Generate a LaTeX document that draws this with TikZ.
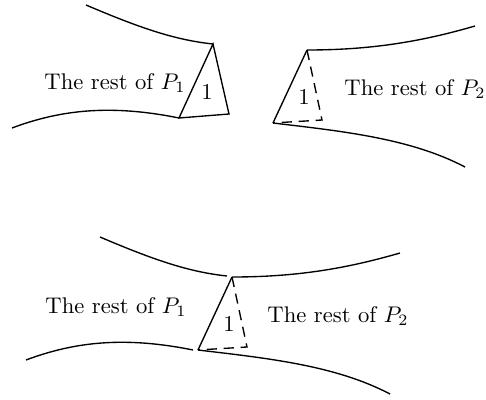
\documentclass[tikz,border=0pt]{standalone}
\usetikzlibrary{positioning}

\begin{document}
\begin{tikzpicture}[
  x=0.442pt, y=-0.442pt,
  bd/.style={semithick},
  hid/.style={semithick, dash pattern=on 4.5pt off 3pt},
  lbl/.style={inner sep=1pt}]
\useasboundingbox (0,0) rectangle (486,399);
% upper picture: P_1 with its piece 1
\coordinate (ta) at (213,44);
\coordinate (tb) at (179,118);
\coordinate (tc) at (229,114);
\draw[bd] (86,5) .. controls (140,28) and (175,40) .. (ta);
\draw[bd] (12,128) .. controls (60,110) and (110,104) .. (tb);
\draw[bd] (ta) -- (tb) -- (tc) -- cycle;
\node[lbl] (rest1) at (115,83) {The rest of $P_1$};
\node[lbl] (one1) at (207,92) {1};
% upper picture: P_2 with the hole for piece 1
\coordinate (ua) at (307,50);
\coordinate (ub) at (273,123);
\coordinate (uc) at (322,120);
\draw[bd] (ua) .. controls (370,50) and (420,42) .. (475,26);
\draw[bd] (ub) .. controls (340,131) and (410,138) .. (465,167);
\draw[bd] (ua) -- (ub);
\draw[hid] (ua) -- (uc) -- (ub);
\node[lbl] (rest2) at (415,89) {The rest of $P_2$};
\node[lbl] (one2) at (304,97) {1};
% lower picture: the two glued together
\begin{scope}[shift={(14,232)}]
  \draw[bd] (86,5) .. controls (140,28) and (175,40) .. (213,44);
  \draw[bd] (12,128) .. controls (60,110) and (110,104) .. (179,118);
\end{scope}
\begin{scope}[shift={(-75,227)}]
  \coordinate (va) at (307,50);
  \coordinate (vb) at (273,123);
  \coordinate (vc) at (322,120);
  \draw[bd] (va) .. controls (370,50) and (420,42) .. (475,26);
  \draw[bd] (vb) .. controls (340,131) and (410,138) .. (465,167);
  \draw[bd] (va) -- (vb);
  \draw[hid] (va) -- (vc) -- (vb);
\end{scope}
\node[lbl] (rest3) at (116,307) {The rest of $P_1$};
\node[lbl] (rest4) at (338,316) {The rest of $P_2$};
\node[lbl] (one3) at (229,324) {1};
\end{tikzpicture}
\end{document}
